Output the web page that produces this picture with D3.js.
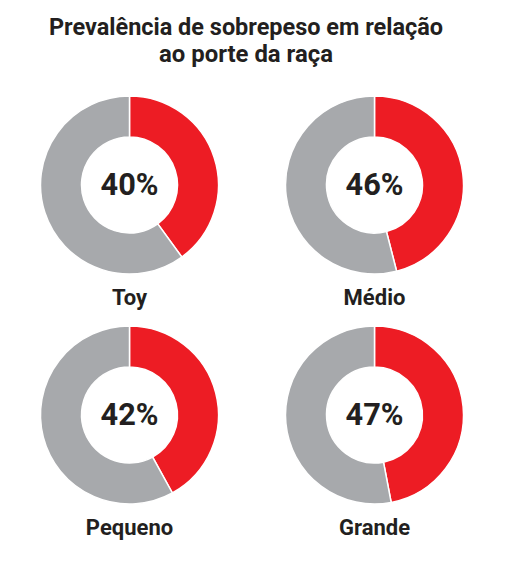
<!DOCTYPE html>
<html>
<head>
<meta charset="utf-8">
<script src="https://cdn.jsdelivr.net/npm/d3@7"></script>
<style>
    body { margin: 0; background: #fff; }
    text { font-family: Roboto, "Noto Sans", sans-serif; fill: #231f20; font-weight: 700; }
</style>
</head>
<body>
<div id="chart"></div>
<script>
const titleLines = ["Prevalência de sobrepeso em relação", "ao porte da raça"];
const categories = ["Toy", "Médio", "Pequeno", "Grande"];
const overweight = [40, 46, 42, 47];
const colors = ["#ed1c24", "#a7a9ac"];

const width = 516;
const height = 565;

const svg = d3.select("#chart")
    .append("svg")
    .attr("width", width)
    .attr("height", height);

// title, two centred lines
svg.selectAll(".title")
    .data(titleLines)
    .enter()
    .append("text")
    .attr("class", "title")
    .attr("x", 246)
    .attr("y", (d, i) => 35 + i * 27)
    .attr("text-anchor", "middle")
    .attr("font-size", 24.5)
    .attr("textLength", (d, i) => i === 0 ? 394 : 174)
    .attr("lengthAdjust", "spacingAndGlyphs")
    .text(d => d);

// 2x2 grid of donuts
const col = d3.scaleBand().domain([0, 1]).range([7, 497]);
const row = d3.scaleBand().domain([0, 1]).range([70, 530]);

const outerR = 89;
const innerR = 48;

const pie = d3.pie().sort(null).value(d => d);
const arc = d3.arc().innerRadius(innerR).outerRadius(outerR);

categories.forEach((name, i) => {
    const cx = col(i % 2) + col.bandwidth() / 2;
    const cy = row(Math.floor(i / 2)) + row.bandwidth() / 2;
    const v = overweight[i];

    const g = svg.append("g")
        .attr("transform", `translate(${cx},${cy})`);

    g.selectAll("path")
        .data(pie([v, 100 - v]))
        .enter()
        .append("path")
        .attr("d", arc)
        .attr("fill", (d, j) => colors[j])
        .attr("stroke", "#fff")
        .attr("stroke-width", 1.5);

    g.append("text")
        .attr("text-anchor", "middle")
        .attr("y", 10)
        .attr("font-size", 31)
        .attr("textLength", 58)
        .attr("lengthAdjust", "spacingAndGlyphs")
        .text(v + "%");

    g.append("text")
        .attr("text-anchor", "middle")
        .attr("y", 120)
        .attr("font-size", 22)
        .text(name);
});
</script>
</body>
</html>
